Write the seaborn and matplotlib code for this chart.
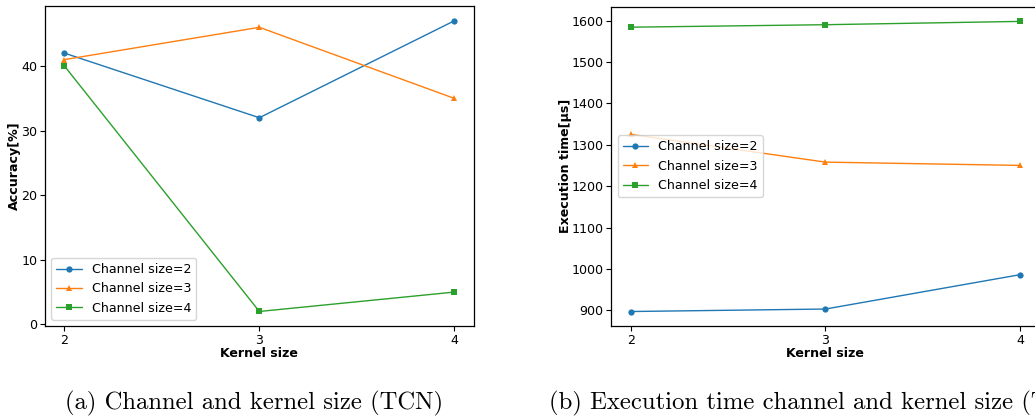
import matplotlib
matplotlib.use("Agg")
import matplotlib.pyplot as plt
import seaborn as sns

# Kernel sizes evaluated on the x axis
kernel_sizes = [2, 3, 4]

# Accuracy [%] per channel size
acc_ch2 = [42, 32, 47]
acc_ch3 = [41, 46, 35]
acc_ch4 = [40, 2, 5]

# Execution time [µs] per channel size
time_ch2 = [897, 903, 986]
time_ch3 = [1325, 1258, 1250]
time_ch4 = [1584, 1590, 1598]

series_labels = ["Channel size=2", "Channel size=3", "Channel size=4"]
markers = ["o", "^", "s"]

sns.set_theme(style="ticks")
plt.rcParams["font.family"] = ["DejaVu Sans"]
plt.rcParams["axes.edgecolor"] = "black"
plt.rcParams["axes.labelcolor"] = "black"
plt.rcParams["text.color"] = "black"
plt.rcParams["xtick.color"] = "black"
plt.rcParams["ytick.color"] = "black"

colors = sns.color_palette("tab10", 3)
W, H = 1035, 418
fig = plt.figure(figsize=(W / 100, H / 100), dpi=100)

def px_axes(left, top, right, bottom):
    return fig.add_axes([left / W, 1 - bottom / H, (right - left) / W, (bottom - top) / H])

ax1 = px_axes(45, 6, 473.7, 326)
ax2 = px_axes(611.3, 6.5, 1039.5, 326)

fs = 9.1
for ax, series, ylabel, ticks, loc in [
    (ax1, [acc_ch2, acc_ch3, acc_ch4], "Accuracy[%]", [0, 10, 20, 30, 40], "lower left"),
    (ax2, [time_ch2, time_ch3, time_ch4], "Execution time[µs]",
     [900, 1000, 1100, 1200, 1300, 1400, 1500, 1600], "center left"),
]:
    for vals, lab, mk, c in zip(series, series_labels, markers, colors):
        sns.lineplot(x=kernel_sizes, y=vals, label=lab, marker=mk, color=c,
                     linewidth=1.0, markersize=4.5, markeredgewidth=0, ax=ax)
    ax.set_xticks(kernel_sizes)
    ax.set_yticks(ticks)
    ax.set_xlim(1.9, 4.1)
    ax.set_xlabel("Kernel size", fontsize=fs, fontweight="bold", labelpad=0)
    ax.set_ylabel(ylabel, fontsize=fs, fontweight="bold", labelpad=0)
    ax.tick_params(labelsize=fs, length=3.5, width=0.8, pad=2)
    for sp in ax.spines.values():
        sp.set_linewidth(0.9)
    leg = ax.legend(loc=loc, fontsize=fs, handlelength=2.0, framealpha=0.8)
    for t in leg.get_texts():
        t.set_color("black")

ax1.set_ylim(-0.25, 49.3)
ax2.set_ylim(862, 1634)

cap_font = dict(family="cmr10", fontsize=17.8, va="baseline", ha="left", color="black")
fig.text(65 / W, 1 - 409 / H, "(a) Channel and kernel size (TCN)", **cap_font)
fig.text(549 / W, 1 - 409 / H, "(b) Execution time channel and kernel size (TCN)", **cap_font)

fig.savefig("out.png", dpi=100)
